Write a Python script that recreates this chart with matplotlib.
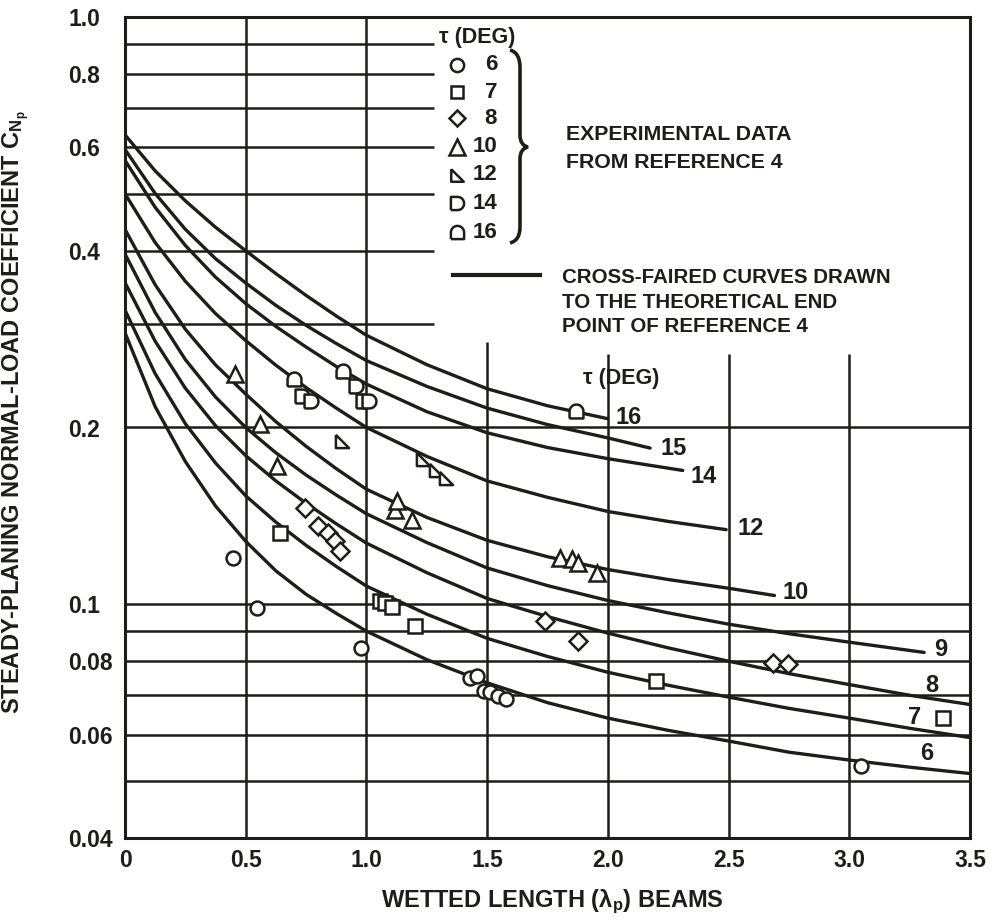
import numpy as np
import matplotlib.pyplot as plt
import matplotlib.transforms as mtransforms
from matplotlib.path import Path
from matplotlib.patches import PathPatch

INK = '#1f1c19'
plt.rcParams['font.family'] = ['Liberation Sans', 'DejaVu Sans']
plt.rcParams['font.weight'] = 'bold'
plt.rcParams['axes.labelweight'] = 'bold'
plt.rcParams['mathtext.fontset'] = 'custom'
plt.rcParams['mathtext.rm'] = 'Liberation Sans:bold'
plt.rcParams['mathtext.bf'] = 'Liberation Sans:bold'
plt.rcParams['mathtext.it'] = 'Liberation Sans:bold'

# ---- cross-faired curves ----
lam_grid = [0, 0.125, 0.25, 0.375, 0.5, 0.625, 0.75, 0.875, 1.0,
            1.25, 1.5, 1.75, 2.0, 2.25, 2.5, 2.75, 3.0, 3.25, 3.5]

cnp_tau6 = [0.290, 0.217, 0.175, 0.147, 0.128, 0.114, 0.104, 0.0965, 0.090,
            0.0805, 0.0735, 0.068, 0.064, 0.061, 0.0585, 0.056, 0.0543, 0.0528, 0.0515]
cnp_tau7 = [0.317, 0.247, 0.203, 0.174, 0.153, 0.138, 0.126, 0.116, 0.1074,
            0.0962, 0.0875, 0.0815, 0.0766, 0.0728, 0.0695, 0.0665, 0.064, 0.0615, 0.0593]
cnp_tau8 = [0.353, 0.2805, 0.2333, 0.2014, 0.1791, 0.1622, 0.1486, 0.1371, 0.1271,
            0.1132, 0.1023, 0.0953, 0.0893, 0.0843, 0.080, 0.0762, 0.073, 0.070, 0.0675]

lam_tau9 = lam_grid[:17] + [3.31]
cnp_tau9 = [0.395, 0.314, 0.261, 0.2254, 0.200, 0.1811, 0.166, 0.1535, 0.1426,
            0.1274, 0.1153, 0.1076, 0.1015, 0.0967, 0.0925, 0.0891, 0.0862, 0.0828]

lam_tau10 = lam_grid[:15] + [2.69]
cnp_tau10 = [0.435, 0.350, 0.294, 0.2556, 0.228, 0.2046, 0.1858, 0.1702, 0.157,
             0.1406, 0.1285, 0.1205, 0.1146, 0.1102, 0.1065, 0.1035]

lam_tau12 = lam_grid[:14] + [2.49]
cnp_tau12 = [0.500, 0.413, 0.3548, 0.3126, 0.2812, 0.2553, 0.2339, 0.2158, 0.200,
             0.1786, 0.1622, 0.1521, 0.1439, 0.1384, 0.134]

lam_tau14 = lam_grid[:13] + [2.31]
cnp_tau14 = [0.570, 0.4742, 0.4083, 0.3606, 0.3251, 0.2972, 0.2742, 0.2541, 0.2371,
             0.2128, 0.1959, 0.1849, 0.177, 0.169]

lam_tau15 = lam_grid[:13] + [2.175]
cnp_tau15 = [0.595, 0.5006, 0.435, 0.3877, 0.3524, 0.3228, 0.2985, 0.278, 0.260,
             0.235, 0.2158, 0.2023, 0.192, 0.1845]

lam_tau16 = lam_grid[:13]
cnp_tau16 = [0.630, 0.547, 0.4864, 0.4385, 0.400, 0.3656, 0.3357, 0.3097, 0.2871,
             0.2559, 0.2328, 0.2178, 0.207]

curve_taus = [6, 7, 8, 9, 10, 12, 14, 15, 16]
curve_lams = [lam_grid, lam_grid, lam_grid, lam_tau9, lam_tau10,
              lam_tau12, lam_tau14, lam_tau15, lam_tau16]
curve_cnps = [cnp_tau6, cnp_tau7, cnp_tau8, cnp_tau9, cnp_tau10,
              cnp_tau12, cnp_tau14, cnp_tau15, cnp_tau16]

# ---- experimental points (reference 4) ----
lam_exp6 = [0.447, 0.547, 0.978, 1.43, 1.46, 1.485, 1.51, 1.545, 1.58, 3.05]
cnp_exp6 = [0.120, 0.0985, 0.0841, 0.0748, 0.0755, 0.0712, 0.071, 0.0698, 0.069, 0.0531]
lam_exp7 = [0.64, 1.056, 1.077, 1.106, 1.20, 2.2, 3.39]
cnp_exp7 = [0.132, 0.1012, 0.1004, 0.0988, 0.0918, 0.074, 0.0641]
lam_exp8 = [0.745, 0.80, 0.84, 0.87, 0.89, 1.74, 1.877, 2.685, 2.745]
cnp_exp8 = [0.146, 0.136, 0.132, 0.128, 0.1234, 0.0935, 0.0865, 0.0793, 0.079]
lam_exp10 = [0.456, 0.56, 0.63, 1.12, 1.125, 1.19, 1.80, 1.85, 1.877, 1.955]
cnp_exp10 = [0.247, 0.203, 0.172, 0.145, 0.150, 0.139, 0.1198, 0.1193, 0.1175, 0.1129]
lam_exp12 = [0.90, 1.235, 1.29, 1.33]
cnp_exp12 = [0.19, 0.177, 0.169, 0.164]
lam_exp14 = [0.735, 0.77, 0.955, 0.985, 1.01]
cnp_exp14 = [0.226, 0.222, 0.235, 0.222, 0.222]
lam_exp16 = [0.70, 0.905, 1.87]
cnp_exp16 = [0.242, 0.250, 0.213]

y_ticks = [0.04, 0.06, 0.08, 0.1, 0.2, 0.4, 0.6, 0.8, 1.0]
y_ticklabels = ['0.04', '0.06', '0.08', '0.1', '0.2', '0.4', '0.6', '0.8', '1.0']
x_ticks = [0, 0.5, 1.0, 1.5, 2.0, 2.5, 3.0, 3.5]
x_ticklabels = ['0', '0.5', '1.0', '1.5', '2.0', '2.5', '3.0', '3.5']

# marker shapes
t = np.linspace(np.pi / 2, -np.pi / 2, 25)
d_marker = [(-1, -1), (-1, 1)] + list(zip(np.cos(t), np.sin(t))) + [(-1, -1)]
t2 = np.linspace(0, np.pi, 25)
dome_marker = [(-1, -1), (1, -1)] + list(zip(np.cos(t2), np.sin(t2))) + [(-1, -1)]
rtri_marker = [(-1, 1), (-1, -1), (1, -1), (-1, 1)]

exp_sets = [
    (lam_exp6, cnp_exp6, 'o', 10.0, '6'),
    (lam_exp7, cnp_exp7, 's', 9.5, '7'),
    (lam_exp8, cnp_exp8, 'D', 9.0, '8'),
    (lam_exp10, cnp_exp10, '^', 11.5, '10'),
    (lam_exp12, cnp_exp12, rtri_marker, 9.5, '12'),
    (lam_exp14, cnp_exp14, d_marker, 10.0, '14'),
    (lam_exp16, cnp_exp16, dome_marker, 10.0, '16'),
]

fig = plt.figure(figsize=(9.93, 9.21), dpi=100)
ax = fig.add_axes([125 / 993, 1 - 838 / 921, 845 / 993, 821 / 921])
ax.set_yscale('log')
ax.set_xlim(0, 3.5)
ax.set_ylim(0.04, 1.0)

# grid, broken where the legend sits
ax.hlines([0.05, 0.06, 0.07, 0.08, 0.09, 0.1, 0.2], 0, 3.5, color=INK, lw=1.8, zorder=1)
ax.hlines([0.3, 0.4, 0.5, 0.6, 0.7, 0.8, 0.9], 0, 1.28, color=INK, lw=1.8, zorder=1)
ax.vlines([0.5, 1.0], 0.04, 1.0, color=INK, lw=1.8, zorder=1)
ax.vlines([1.5], 0.04, 0.28, color=INK, lw=1.8, zorder=1)
ax.vlines([2.0, 2.5, 3.0], 0.04, 0.267, color=INK, lw=1.8, zorder=1)

# curves
label_offsets = [(-43, 20), (-55, 20), (-38, 19), (10, 3), (8, 3),
                 (11, 1), (8, -6), (10, 0), (8, 1)]
label_ha = ['center', 'center', 'center', 'left', 'left', 'left', 'left', 'left', 'left']
for tau, lam, cnp, off, ha in zip(curve_taus, curve_lams, curve_cnps, label_offsets, label_ha):
    ax.plot(lam, cnp, color=INK, lw=2.4, solid_capstyle='round', zorder=3)
    ax.annotate(str(tau), (lam[-1], cnp[-1]), xytext=off, textcoords='offset pixels',
                ha=ha, va='center', fontsize=17, color=INK, annotation_clip=False)

for lam, cnp, mk, ms, _ in exp_sets:
    ax.plot(lam, cnp, ls='none', marker=mk, ms=ms, mfc='white', mec=INK, mew=1.8,
            zorder=4, clip_on=False)

ax.set_xticks(x_ticks)
ax.set_xticklabels(x_ticklabels)
ax.set_yticks(y_ticks)
ax.set_yticklabels(y_ticklabels)
ax.minorticks_off()
ax.tick_params(length=0, labelsize=16.5, colors=INK)
ax.tick_params(axis='x', pad=8)
ax.tick_params(axis='y', pad=41)
for lab in ax.get_yticklabels():
    lab.set_horizontalalignment('left')
for sp in ax.spines.values():
    sp.set_linewidth(2.2)
    sp.set_color(INK)

ax.set_xlabel(r'WETTED LENGTH ($\mathregular{\lambda_p}$) BEAMS', fontsize=17, color=INK)
ax.xaxis.set_label_coords(0.506, -0.060)
ax.set_ylabel(r'STEADY-PLANING NORMAL-LOAD COEFFICIENT C$_{\mathregular{N_p}}$',
              fontsize=17, color=INK)
ax.yaxis.set_label_coords(-0.110, 0.519)

# ---- legend block (pixel placement) ----
px = mtransforms.Affine2D().scale(1 / 993, -1 / 921).translate(0, 1) + fig.transFigure
fig.text(477, 37, 'τ (DEG)', transform=px, ha='center', va='center', fontsize=15.5, color=INK)
rows_y = [65, 92, 118, 147, 175, 203, 232]
for (lam, cnp, mk, ms, name), yy in zip(exp_sets, rows_y):
    ax.plot([457], [yy], transform=px, ls='none', marker=mk, ms=ms * 0.95, mfc='white',
            mec=INK, mew=1.8, clip_on=False)
    fig.text(497, yy, name, transform=px, ha='right', va='center', fontsize=16, color=INK)

brace = Path([(510, 50), (517, 52), (520, 58), (520, 68), (520, 135),
              (520, 142), (523, 146), (528, 147),
              (523, 148), (520, 152), (520, 159), (520, 226),
              (520, 236), (517, 241), (510, 243)],
             [Path.MOVETO, Path.CURVE4, Path.CURVE4, Path.CURVE4, Path.LINETO,
              Path.CURVE4, Path.CURVE4, Path.CURVE4,
              Path.CURVE4, Path.CURVE4, Path.CURVE4, Path.LINETO,
              Path.CURVE4, Path.CURVE4, Path.CURVE4])
fig.add_artist(PathPatch(brace, transform=px, fill=False, ec=INK, lw=2.6))

fig.text(566, 135, 'EXPERIMENTAL DATA', transform=px, ha='left', va='center', fontsize=15.3, color=INK)
fig.text(566, 162, 'FROM REFERENCE 4', transform=px, ha='left', va='center', fontsize=15.3, color=INK)

ax.plot([453, 540], [275, 275], transform=px, color=INK, lw=3, clip_on=False)
for yy, line in zip([277, 302, 326], ['CROSS-FAIRED CURVES DRAWN',
                                      'TO THE THEORETICAL END',
                                      'POINT OF REFERENCE 4']):
    fig.text(562, yy, line, transform=px, ha='left', va='center', fontsize=14.8, color=INK)

fig.text(583, 378, 'τ (DEG)', transform=px, ha='left', va='center', fontsize=15.5, color=INK)

fig.savefig('out.png', dpi=100, facecolor='white')
